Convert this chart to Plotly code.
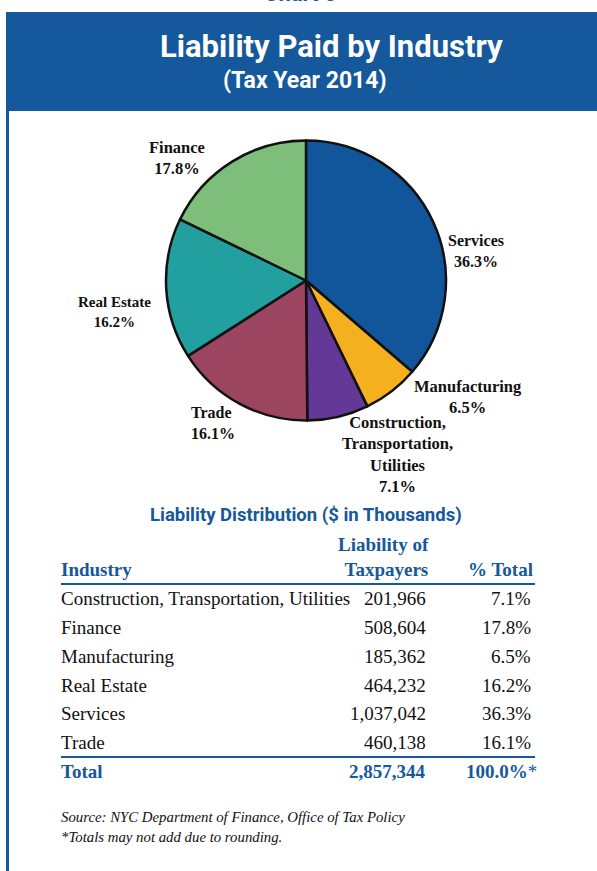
import plotly.graph_objects as go

# pie data (clockwise from 12 o'clock)
pie_labels = ["Services", "Manufacturing", "Construction, Transportation, Utilities",
              "Trade", "Real Estate", "Finance"]
pie_values = [1037042, 185362, 201966, 460138, 464232, 508604]
pie_pct = ["36.3%", "6.5%", "7.1%", "16.1%", "16.2%", "17.8%"]
pie_colors = ["#11569a", "#f4b01f", "#643897", "#9c4560", "#21a09f", "#7dbe7a"]

# table data
tbl_industry = ["Construction, Transportation, Utilities", "Finance", "Manufacturing",
                "Real Estate", "Services", "Trade"]
tbl_liability = ["201,966", "508,604", "185,362", "464,232", "1,037,042", "460,138"]
tbl_pct = ["7.1%", "17.8%", "6.5%", "16.2%", "36.3%", "16.1%"]
total_liability = "2,857,344"
total_pct = "100.0%"

W, H = 597, 871
BLUE = "#15589b"
SERIF = "Liberation Serif, Times New Roman, serif"
SANS = "Roboto, Lato, sans-serif"


def px(x):
    return x / W


def py(y):
    return 1 - y / H


fig = go.Figure()
fig.add_trace(go.Pie(
    labels=pie_labels, values=pie_values,
    sort=False, direction="clockwise", rotation=0,
    marker=dict(colors=pie_colors, line=dict(color="#111111", width=2.5)),
    textinfo="none", hoverinfo="label+percent", showlegend=False,
    domain=dict(x=[px(166), px(446)], y=[py(421), py(140)]),
))

ann = []


def txt(x, y, s, size=15, color="#111111", family=SERIF, xanchor="center", yanchor="middle", align="center"):
    ann.append(dict(x=px(x), y=py(y), xref="paper", yref="paper", text=s, showarrow=False,
                    font=dict(size=size, color=color, family=family),
                    xanchor=xanchor, yanchor=yanchor, align=align))


# slice labels: (x, y, anchor, size)
label_pos = {
    "Services": (476, 251, "center", 16),
    "Manufacturing": (468, 397, "center", 16.5),
    "Construction, Transportation, Utilities": (397, 455, "center", 16.5),
    "Trade": (189, 423, "left", 16),
    "Real Estate": (114, 312, "center", 15),
    "Finance": (177, 158, "center", 16.5),
}
for lab, pct in zip(pie_labels, pie_pct):
    x, y, al, sz = label_pos[lab]
    shown = lab.replace(", ", ",<br>") if lab.startswith("Construction") else lab
    txt(x, y, "<b>%s<br>%s</b>" % (shown, pct), size=sz, xanchor=al, align=al)

# header band text
txt(300, -6, "<b>Chart 5</b>", size=22, color=BLUE, family=SANS)
txt(331, 47, "<b>Liability Paid by Industry</b>", size=31, color="white", family=SANS)
txt(305, 80, "<b>(Tax Year 2014)</b>", size=23, color="white", family=SANS)

# table title and headers
txt(306, 515, "<b>Liability Distribution ($ in Thousands)</b>", size=18.5, color=BLUE, family=SANS)
txt(59, 569, "<b>Industry</b>", size=19, color=BLUE, xanchor="left")
txt(431, 557, "<b>Liability of<br>Taxpayers</b>", size=19, color=BLUE, xanchor="right", align="right")
txt(535, 569, "<b>% Total</b>", size=19, color=BLUE, xanchor="right")

row_y = [598, 627, 656, 685, 713, 742]
for yy, ind, lia, pc in zip(row_y, tbl_industry, tbl_liability, tbl_pct):
    txt(59, yy, ind, size=19, xanchor="left")
    txt(428, yy, lia, size=19, xanchor="right")
    txt(533, yy, pc, size=19, xanchor="right")

txt(59, 771, "<b>Total</b>", size=19, color=BLUE, xanchor="left")
txt(428, 771, "<b>%s</b>" % total_liability, size=19, color=BLUE, xanchor="right")
txt(539, 771, "<b>%s</b>*" % total_pct, size=19, color=BLUE, xanchor="right")

txt(59, 817, "<i>Source: NYC Department of Finance, Office of Tax Policy</i>", size=14.8, xanchor="left")
txt(59, 837, "<i>*Totals may not add due to rounding.</i>", size=14.8, xanchor="left")

shapes = [
    dict(type="rect", xref="paper", yref="paper", x0=px(6), x1=px(W + 2), y0=py(111), y1=py(12),
         fillcolor=BLUE, line=dict(width=0), layer="below"),
    dict(type="rect", xref="paper", yref="paper", x0=px(6), x1=px(9), y0=py(H + 2), y1=py(111),
         fillcolor=BLUE, line=dict(width=0), layer="below"),
    dict(type="line", xref="paper", yref="paper", x0=px(61), x1=px(535), y0=py(584), y1=py(584),
         line=dict(color=BLUE, width=2)),
    dict(type="line", xref="paper", yref="paper", x0=px(61), x1=px(535), y0=py(757), y1=py(757),
         line=dict(color=BLUE, width=2)),
]

fig.update_layout(
    width=W, height=H, margin=dict(l=0, r=0, t=0, b=0),
    paper_bgcolor="white", plot_bgcolor="white",
    annotations=ann, shapes=shapes,
)
fig.write_html("out.html", config={"displayModeBar": False},
               post_script="document.body.style.margin='0px';")
